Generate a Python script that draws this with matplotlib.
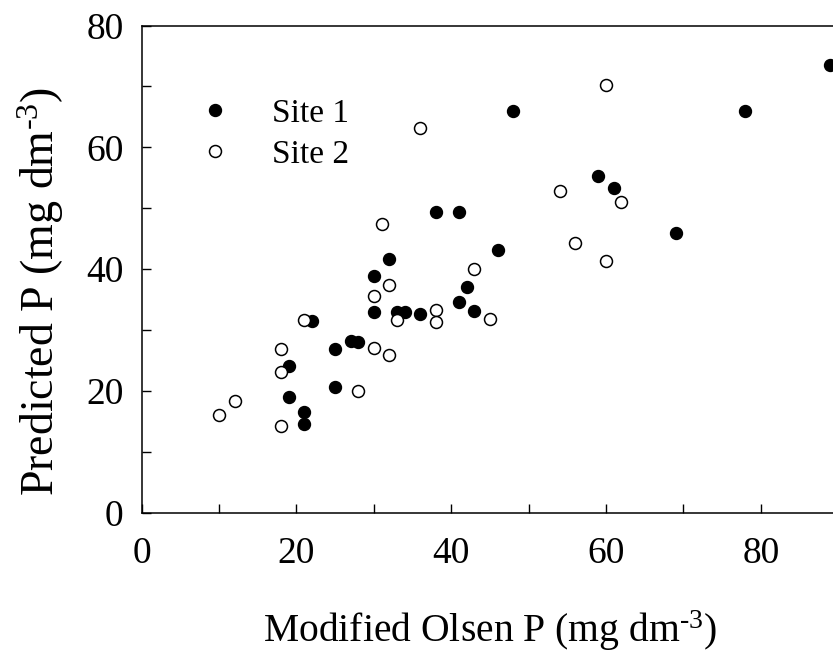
import matplotlib
matplotlib.use("Agg")
import matplotlib.pyplot as plt
from matplotlib.ticker import MultipleLocator

# Site 1 (filled circles)
site1_x = [19, 21, 21, 19, 22, 25, 25, 27, 28, 30, 30, 32, 33, 34, 36,
           38, 41, 41, 42, 43, 46, 48, 59, 61, 69, 78, 89]
site1_y = [24.0, 16.5, 14.5, 19.0, 31.4, 26.8, 20.7, 28.1, 28.0, 33.0, 38.8, 41.7, 33.0, 32.9, 32.6,
           49.4, 49.4, 34.6, 37.1, 33.1, 43.2, 65.9, 55.3, 53.3, 46.0, 65.9, 73.5]

# Site 2 (open circles)
site2_x = [10, 12, 18, 18, 18, 21, 28, 30, 32, 30, 32, 31, 33, 36, 38,
           38, 43, 45, 54, 56, 60, 60, 62]
site2_y = [16.0, 18.4, 26.8, 23.1, 14.2, 31.7, 20.0, 27.0, 25.9, 35.5, 37.3, 47.4, 31.6, 63.1, 33.25,
           31.3, 40.0, 31.8, 52.9, 44.2, 41.4, 70.3, 51.0]

x_ticks = [0, 20, 40, 60, 80]
y_ticks = [0, 20, 40, 60, 80]

plt.rcParams['font.family'] = ['Liberation Serif', 'DejaVu Serif']
plt.rcParams['mathtext.fontset'] = 'custom'
plt.rcParams['mathtext.rm'] = 'Liberation Serif'
plt.rcParams['mathtext.default'] = 'regular'

fig = plt.figure(figsize=(8.33, 6.51), dpi=100)
ax = fig.add_axes([0.1701, 0.2127, 0.929, 0.748])

ax.plot(site1_x, site1_y, 'o', ms=8.6, mfc='black', mec='black', mew=1.0,
        ls='none', label='Site 1', clip_on=False)
ax.plot(site2_x, site2_y, 'o', ms=8.6, mfc='white', mec='black', mew=1.1,
        ls='none', label='Site 2', clip_on=False)

ax.set_xlim(0, 100)
ax.set_ylim(0, 80)
ax.set_xticks(x_ticks)
ax.set_yticks(y_ticks)
ax.xaxis.set_minor_locator(MultipleLocator(10))
ax.yaxis.set_minor_locator(MultipleLocator(10))
ax.tick_params(which='both', direction='in', length=6.5, width=1.0)
ax.tick_params(axis='x', which='major', labelsize=27, pad=17)
ax.tick_params(axis='y', which='major', labelsize=27, pad=13)
for s in ax.spines.values():
    s.set_linewidth(1.1)

ax.set_ylabel(r'Predicted P (mg dm$^{\text{-3}}$)', fontsize=33)
ax.yaxis.set_label_coords(-0.098, 0.453)
fig.text(0.588, 0.014, r'Modified Olsen P (mg dm$^{\text{-3}}$)', fontsize=28.5,
         ha='center', va='baseline')

ax.legend(loc='upper left', bbox_to_anchor=(0.0735, 0.851), frameon=False,
          fontsize=24, borderpad=0, borderaxespad=0, handlelength=1.0,
          handletextpad=1.2, labelspacing=0.32)

fig.savefig('out.png', dpi=100)
